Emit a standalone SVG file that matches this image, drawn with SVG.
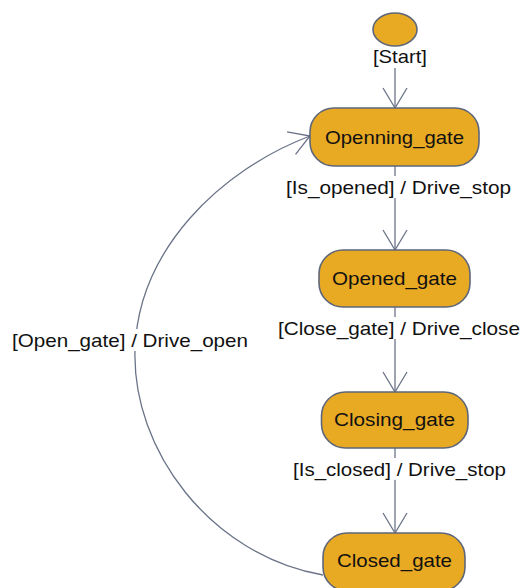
<svg xmlns="http://www.w3.org/2000/svg" width="527" height="588" viewBox="0 0 527 588">
<style>
.state{fill:#E8A923;stroke:#5E6679;stroke-width:1.6}
.name{font-family:"Liberation Sans",Arial,sans-serif;font-size:18.5px;fill:#111;text-anchor:middle}
.lbl{font-family:"Liberation Sans",Arial,sans-serif;font-size:18.5px;fill:#111;text-anchor:middle}
.edge{fill:none;stroke:#6A7388;stroke-width:1.3}
.bg{fill:#fff}
</style>
<defs>
<marker id="v" markerUnits="userSpaceOnUse" markerWidth="24" markerHeight="28" viewBox="-22 -14 24 28" refX="0" refY="0" orient="auto">
<path d="M-20,-12 L0,0 L-20,12" fill="none" stroke="#6A7388" stroke-width="1.3"/>
</marker>
</defs>
<g id="connectors">
<line class="edge" x1="395" y1="68" x2="395" y2="108" marker-end="url(#v)"/>
<line class="edge" x1="395" y1="166" x2="395" y2="250" marker-end="url(#v)"/>
<line class="edge" x1="395" y1="307" x2="395" y2="392" marker-end="url(#v)"/>
<line class="edge" x1="395" y1="448" x2="395" y2="533" marker-end="url(#v)"/>
<path class="edge" d="M323,575 C210,555 132,450 135,350 C138,250 220,170 310,136" marker-end="url(#v)"/>
<rect class="bg" x="284" y="176" width="230" height="22"/>
<rect class="bg" x="276" y="317" width="246" height="22"/>
<rect class="bg" x="290" y="458" width="219" height="22"/>
<rect class="bg" x="10" y="329" width="240" height="22"/>
<text class="lbl" x="400" y="63" textLength="54" lengthAdjust="spacingAndGlyphs">[Start]</text>
<text class="lbl" x="398.5" y="194" textLength="225" lengthAdjust="spacingAndGlyphs">[Is_opened] / Drive_stop</text>
<text class="lbl" x="399" y="335" textLength="242" lengthAdjust="spacingAndGlyphs">[Close_gate] / Drive_close</text>
<text class="lbl" x="399.5" y="476" textLength="213" lengthAdjust="spacingAndGlyphs">[Is_closed] / Drive_stop</text>
<text class="lbl" x="130" y="347" textLength="236" lengthAdjust="spacingAndGlyphs">[Open_gate] / Drive_open</text>
</g>
<g id="start">
<ellipse class="state" cx="395" cy="29.5" rx="22" ry="16.5"/>
</g>
<g id="openning_gate">
<rect class="state" x="310" y="108" width="169" height="58" rx="24"/>
<text class="name" x="394.5" y="144" textLength="139" lengthAdjust="spacingAndGlyphs">Openning_gate</text>
</g>
<g id="opened_gate">
<rect class="state" x="319" y="250" width="151" height="57" rx="24"/>
<text class="name" x="394.5" y="285" textLength="125" lengthAdjust="spacingAndGlyphs">Opened_gate</text>
</g>
<g id="closing_gate">
<rect class="state" x="321.5" y="392" width="146.5" height="56" rx="24"/>
<text class="name" x="394.5" y="426" textLength="121" lengthAdjust="spacingAndGlyphs">Closing_gate</text>
</g>
<g id="closed_gate">
<rect class="state" x="323" y="533" width="142" height="58" rx="24"/>
<text class="name" x="394.5" y="567" textLength="115" lengthAdjust="spacingAndGlyphs">Closed_gate</text>
</g>
</svg>
